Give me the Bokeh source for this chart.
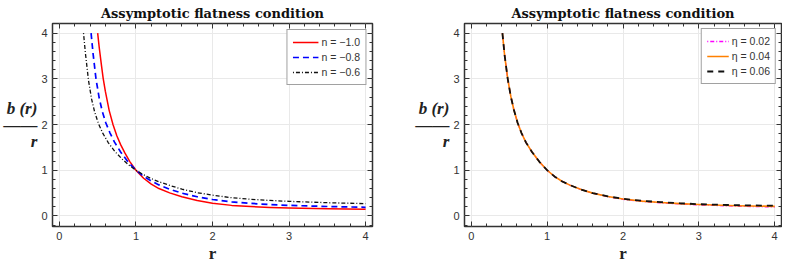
from bokeh.plotting import figure
from bokeh.layouts import row
from bokeh.models import (Range1d, FixedTicker, LinearAxis, Legend, LegendItem,
                          CustomJSTickFormatter)
from bokeh.embed import file_html
from bokeh.resources import INLINE

# ---------------- data ----------------
TITLE = "Assymptotic flatness condition"
X_LABEL = "r"
Y_LABEL = "b (r)\n\u2014\u2014\nr"
X_TICKS = [0, 1, 2, 3, 4]
Y_TICKS = [0, 1, 2, 3, 4]

# left panel: n = -1.0, -0.8, -0.6
r_n10 = [0.50, 0.52, 0.55, 0.572, 0.60, 0.65, 0.70, 0.75, 0.80, 0.855, 0.92, 1.00,
         1.10, 1.20, 1.30, 1.44, 1.60, 1.80, 2.00, 2.25, 2.50, 2.75, 3.00, 3.50, 4.00]
b_n10 = [4.00, 3.69, 3.29, 3.01, 2.73, 2.31, 2.00, 1.755, 1.56, 1.38, 1.19, 1.00,
         0.825, 0.695, 0.60, 0.505, 0.42, 0.34, 0.28, 0.232, 0.205, 0.187, 0.173, 0.156, 0.145]

r_n08 = [0.414, 0.44, 0.478, 0.52, 0.56, 0.606, 0.66, 0.72, 0.80, 0.90, 1.00,
         1.10, 1.20, 1.30, 1.44, 1.60, 1.80, 2.00, 2.25, 2.50, 2.75, 3.00, 3.50, 4.00]
b_n08 = [4.00, 3.55, 3.00, 2.58, 2.29, 2.04, 1.82, 1.615, 1.40, 1.175, 1.00,
         0.868, 0.765, 0.68, 0.585, 0.50, 0.42, 0.36, 0.31, 0.275, 0.25, 0.232, 0.207, 0.19]

r_n06 = [0.315, 0.34, 0.38, 0.42, 0.46, 0.51, 0.57, 0.64, 0.725, 0.82, 0.90, 1.00,
         1.10, 1.20, 1.30, 1.44, 1.60, 1.80, 2.00, 2.25, 2.50, 2.75, 3.00, 3.50, 4.00]
b_n06 = [4.00, 3.56, 2.97, 2.56, 2.28, 2.02, 1.80, 1.60, 1.41, 1.244, 1.123, 1.00,
         0.901, 0.818, 0.749, 0.67, 0.585, 0.51, 0.455, 0.40, 0.365, 0.34, 0.32, 0.29, 0.27]

# right panel: eta = 0.02, 0.04, 0.06
r_eta = [0.41, 0.44, 0.48, 0.52, 0.56, 0.61, 0.66, 0.72, 0.80, 0.90, 1.00, 1.10,
         1.20, 1.30, 1.44, 1.60, 1.80, 2.00, 2.25, 2.50, 2.75, 3.00, 3.50, 4.00]
b_eta002 = [4.00, 3.50, 3.00, 2.62, 2.33, 2.04, 1.82, 1.61, 1.40, 1.18, 1.00, 0.86,
            0.755, 0.675, 0.583, 0.50, 0.422, 0.365, 0.318, 0.288, 0.262, 0.242, 0.214, 0.197]
b_eta004 = [4.00, 3.50, 3.00, 2.62, 2.33, 2.04, 1.82, 1.61, 1.40, 1.18, 1.00, 0.86,
            0.755, 0.675, 0.583, 0.50, 0.425, 0.37, 0.325, 0.295, 0.27, 0.25, 0.225, 0.21]
b_eta006 = [4.00, 3.50, 3.00, 2.62, 2.33, 2.04, 1.82, 1.61, 1.40, 1.18, 1.00, 0.86,
            0.755, 0.675, 0.583, 0.50, 0.428, 0.376, 0.332, 0.303, 0.278, 0.258, 0.236, 0.224]

LEFT_LABELS = ["n = \u22121.0", "n = \u22120.8", "n = \u22120.6"]
RIGHT_LABELS = ["\u03b7 = 0.02", "\u03b7 = 0.04", "\u03b7 = 0.06"]

# ---------------- styling ----------------
H = 265
MINOR = [round(0.2 * k, 1) for k in range(-1, 21) if k % 5 != 0]
FRAME_COL = "#333333"


def make_fig(width, bl, br):
    p = figure(width=width, height=H, output_backend="svg", toolbar_location=None,
               title=TITLE, x_range=Range1d(-0.09, 4.09), y_range=Range1d(-0.23, 4.21),
               min_border_left=bl, min_border_right=br,
               min_border_top=20, min_border_bottom=36)
    p.background_fill_color = "white"
    p.border_fill_color = "white"
    p.outline_line_color = FRAME_COL
    p.outline_line_width = 1.5

    p.title.align = "center"
    p.title.text_font = "DejaVu Serif"
    p.title.text_font_style = "bold"
    p.title.text_font_size = "13px"
    p.title.text_color = "#111111"
    p.title.standoff = 6

    bottom = p.below[0]
    left = p.left[0]
    xt = FixedTicker(ticks=X_TICKS, minor_ticks=MINOR)
    yt = FixedTicker(ticks=Y_TICKS, minor_ticks=MINOR)
    bottom.ticker = xt
    left.ticker = yt
    top = LinearAxis(ticker=xt, formatter=CustomJSTickFormatter(code="return ''"))
    right = LinearAxis(ticker=yt, formatter=CustomJSTickFormatter(code="return ''"))
    p.add_layout(top, "above")
    p.add_layout(right, "right")
    for ax in [bottom, left, top, right]:
        ax.axis_line_color = None
        ax.major_tick_in = 5
        ax.major_tick_out = 0
        ax.minor_tick_in = 3
        ax.minor_tick_out = 0
        ax.major_tick_line_color = FRAME_COL
        ax.minor_tick_line_color = FRAME_COL
        ax.major_label_text_font = "Liberation Sans"
        ax.major_label_text_font_size = "11px"
        ax.major_label_text_color = "#333333"
        ax.major_label_text_line_height = 1.0
        ax.major_label_standoff = 5
    for ax in [top, right]:
        ax.major_label_text_font_size = "0px"
        ax.major_label_standoff = 0

    bottom.axis_label = X_LABEL
    bottom.axis_label_text_font = "Liberation Serif"
    bottom.axis_label_text_font_style = "bold"
    bottom.axis_label_text_font_size = "17px"
    bottom.axis_label_text_color = "#222222"
    bottom.axis_label_text_line_height = 1.0
    bottom.axis_label_standoff = 1

    left.axis_label = Y_LABEL
    left.axis_label_orientation = "horizontal"
    left.axis_label_text_font = "Liberation Serif"
    left.axis_label_text_font_style = "bold italic"
    left.axis_label_text_font_size = "17px"
    left.axis_label_text_color = "#222222"
    left.axis_label_text_line_height = 0.87
    left.axis_label_standoff = 1

    p.grid.grid_line_color = "#e9e9e9"
    p.grid.grid_line_width = 1
    return p


def style_legend(p, items, glyph_w, margin):
    lg = Legend(items=items, location="top_right")
    lg.label_text_font = "Liberation Sans"
    lg.label_text_font_size = "10.5px"
    lg.label_text_color = "#333333"
    lg.glyph_width = glyph_w
    lg.glyph_height = 14
    lg.label_height = 14
    lg.label_standoff = 3
    lg.spacing = 1
    lg.padding = 5
    lg.margin = margin
    lg.border_line_color = "#444444"
    lg.border_line_width = 1.2
    lg.background_fill_color = "white"
    lg.background_fill_alpha = 1
    p.add_layout(lg)


# ---------------- left panel ----------------
p1 = make_fig(412, 52, 40)
l_red = p1.line(r_n10, b_n10, line_color="#ff0000", line_width=1.5, line_join="round")
l_blue = p1.line(r_n08, b_n08, line_color="#0000ff", line_width=1.7, line_dash="6 4",
                 line_join="round")
l_blk = p1.line(r_n06, b_n06, line_color="#111111", line_width=1.3, line_dash="1 2 4 2",
                line_join="round")
style_legend(p1, [LegendItem(label=LEFT_LABELS[0], renderers=[l_red]),
                  LegendItem(label=LEFT_LABELS[1], renderers=[l_blue]),
                  LegendItem(label=LEFT_LABELS[2], renderers=[l_blk])], 26, 6)

# ---------------- right panel ----------------
p2 = make_fig(370, 52, 1)
m_mag = p2.line(r_eta, b_eta002, line_color="#ff00ff", line_width=1.3, line_dash="1 2 4 2",
                line_join="round")
m_org = p2.line(r_eta, b_eta004, line_color="#ff8000", line_width=1.6, line_join="round")
m_blk = p2.line(r_eta, b_eta006, line_color="#111111", line_width=1.8, line_dash="6 5",
                line_join="round")
style_legend(p2, [LegendItem(label=RIGHT_LABELS[0], renderers=[m_mag]),
                  LegendItem(label=RIGHT_LABELS[1], renderers=[m_org]),
                  LegendItem(label=RIGHT_LABELS[2], renderers=[m_blk])], 22, 5)

layout = row(p1, p2)
open("out.html", "w").write(file_html(layout, INLINE))
